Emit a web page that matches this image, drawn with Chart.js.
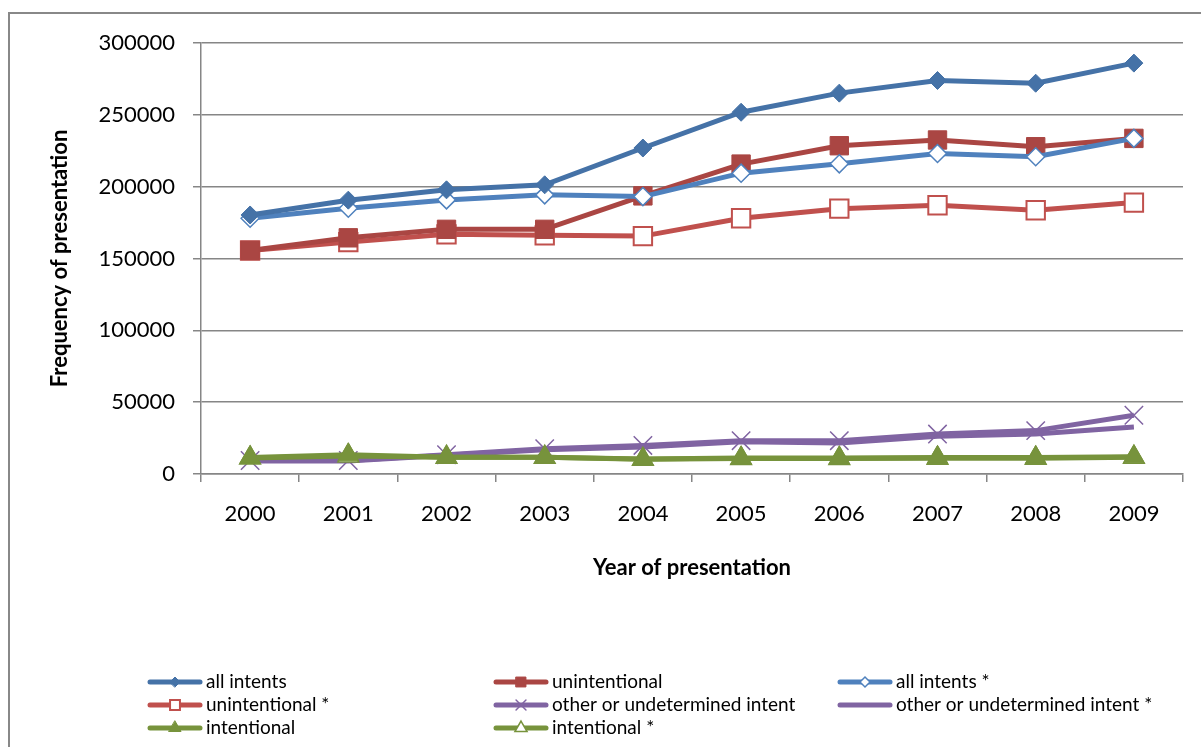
<!DOCTYPE html>
<html>
<head>
<meta charset="utf-8">
<script src="https://cdn.jsdelivr.net/npm/chart.js@4/dist/chart.umd.min.js"></script>
<style>
  body { margin: 0; background: #fff; }
  #wrap { width: 1201px; height: 747px; }
</style>
</head>
<body>
<div id="wrap"><canvas id="chart" width="1201" height="747"></canvas></div>
<script>
// data
const years = ['2000', '2001', '2002', '2003', '2004', '2005', '2006', '2007', '2008', '2009'];
const allIntents = [180300, 190600, 197800, 201300, 226900, 251800, 265100, 273900, 272000, 286000];
const unintentional = [155600, 164400, 170300, 170300, 193600, 215700, 228500, 232500, 227800, 233600];
const allIntentsStar = [178000, 185000, 190800, 194300, 193100, 209400, 215900, 223100, 220800, 233600];
const unintentionalStar = [155600, 161400, 166800, 166100, 165600, 178000, 184700, 187100, 183600, 188900];
const otherIntent = [9400, 9400, 13400, 17600, 19900, 23200, 23200, 27800, 30200, 40900];
const otherIntentStar = [9100, 9100, 13000, 16900, 18800, 22400, 21500, 26200, 27800, 32700];
const intentional = [11500, 13400, 11700, 11700, 10400, 11100, 11100, 11500, 11500, 12000];
const intentionalStar = [11200, 12600, 11700, 11700, 10300, 10800, 10800, 11000, 11000, 11700];

const FONT = 'Lato, "Open Sans", sans-serif';
const GRID = '#868686';

// z: lower number = drawn on top
const series = [
  { label: 'all intents', data: allIntents, color: '#4572A7', style: 'rectRot', r: 9, fill: '#4572A7', bw: 1, z: 5 },
  { label: 'unintentional', data: unintentional, color: '#AA4643', style: 'rect', r: 13, fill: '#AA4643', bw: 1, z: 7 },
  { label: 'all intents *', data: allIntentsStar, color: '#4F81BD', style: 'rectRot', r: 9, fill: '#ffffff', bw: 1.5, z: 6 },
  { label: 'unintentional *', data: unintentionalStar, color: '#C0504D', style: 'rect', r: 13, fill: '#ffffff', bw: 2, z: 8 },
  { label: 'other or undetermined intent', data: otherIntent, color: '#8064A2', style: 'crossRot', r: 13, fill: '#8064A2', bw: 1.5, z: 3 },
  { label: 'other or undetermined intent *', data: otherIntentStar, color: '#8064A2', style: false, r: 0, fill: '#8064A2', bw: 0, z: 4 },
  { label: 'intentional', data: intentional, color: '#77933C', style: 'triangle', r: 12, fill: '#77933C', bw: 1, z: 1 },
  { label: 'intentional *', data: intentionalStar, color: '#77933C', style: 'triangle', r: 12, fill: '#ffffff', bw: 1.5, z: 2 }
];

const datasets = series.map((s) => ({
  label: s.label,
  data: s.data,
  borderColor: s.color,
  backgroundColor: s.fill,
  borderWidth: 5,
  tension: 0,
  pointStyle: s.style,
  pointRadius: s.r,
  pointHoverRadius: s.r,
  pointBackgroundColor: s.fill,
  pointBorderColor: s.color,
  pointBorderWidth: s.bw,
  order: s.z
}));

// grey frame around the chart, top and left edges only visible
const framePlugin = {
  id: 'frame',
  beforeDraw(chart) {
    const ctx = chart.ctx;
    ctx.save();
    ctx.fillStyle = '#fff';
    ctx.fillRect(0, 0, chart.width, chart.height);
    ctx.strokeStyle = '#888';
    ctx.lineWidth = 2;
    ctx.beginPath();
    ctx.moveTo(9, chart.height + 2);
    ctx.lineTo(9, 13);
    ctx.lineTo(chart.width + 2, 13);
    ctx.stroke();
    ctx.restore();
  }
};

// three-column legend under the chart
const legendPlugin = {
  id: 'gridLegend',
  afterDraw(chart) {
    const ctx = chart.ctx;
    const cols = [148, 494, 838];
    const rows = [682, 705, 728];
    ctx.save();
    chart.data.datasets.forEach((ds, i) => {
      const x = cols[i % 3];
      const y = rows[Math.floor(i / 3)];
      ctx.strokeStyle = ds.borderColor;
      ctx.lineWidth = 5;
      ctx.lineCap = 'round';
      ctx.beginPath();
      ctx.moveTo(x + 2, y);
      ctx.lineTo(x + 52, y);
      ctx.stroke();
      if (ds.pointStyle) {
        ctx.fillStyle = ds.pointBackgroundColor;
        ctx.strokeStyle = ds.pointBorderColor;
        ctx.lineWidth = ds.pointBorderWidth;
        Chart.helpers.drawPoint(ctx, {
          pointStyle: ds.pointStyle,
          radius: ds.pointStyle === 'rectRot' ? 5 : 7,
          rotation: 0,
          borderWidth: ds.pointBorderWidth
        }, x + 27, y);
      }
      ctx.fillStyle = '#000';
      ctx.font = '19px ' + FONT;
      ctx.textBaseline = 'middle';
      ctx.textAlign = 'left';
      ctx.fillText(ds.label, x + 58, y);
    });
    ctx.restore();
  }
};

new Chart(document.getElementById('chart'), {
  type: 'line',
  data: { labels: years, datasets },
  options: {
    responsive: false,
    animation: false,
    events: [],
    layout: { padding: { top: 43, left: 0, right: 18, bottom: 147 } },
    plugins: {
      legend: { display: false },
      tooltip: { enabled: false }
    },
    scales: {
      x: {
        type: 'category',
        offset: true,
        afterFit: (s) => { s.height = 126; },
        grid: { offset: true, drawOnChartArea: false, drawTicks: true, tickLength: 8, color: GRID, lineWidth: 1.5 },
        border: { color: GRID, width: 1.5 },
        ticks: { color: '#000', padding: 19, font: { family: FONT, size: 22 }, maxRotation: 0 },
        title: {
          display: true,
          text: 'Year of presentation',
          color: '#000',
          font: { family: FONT, size: 22, weight: 'bold' },
          padding: { top: 0, bottom: 19 }
        }
      },
      y: {
        min: 0,
        max: 300000,
        afterFit: (s) => { s.width = 201; },
        grid: { drawTicks: true, tickLength: 8, color: GRID, lineWidth: 1.5 },
        border: { color: GRID, width: 1.5 },
        ticks: {
          stepSize: 50000,
          color: '#000',
          padding: 18,
          font: { family: FONT, size: 22 },
          callback: (v) => String(v)
        },
        title: {
          display: true,
          text: 'Frequency of presentation',
          color: '#000',
          font: { family: FONT, size: 22, weight: 'bold' },
          padding: { top: 47, bottom: 0 }
        }
      }
    }
  },
  plugins: [framePlugin, legendPlugin]
});
</script>
</body>
</html>
